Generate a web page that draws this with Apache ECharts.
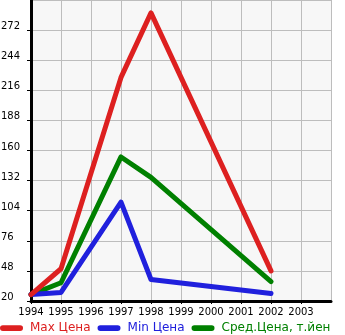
<!DOCTYPE html>
<html>
<head>
<meta charset="utf-8">
<script src="https://cdn.jsdelivr.net/npm/echarts@6/dist/echarts.min.js"></script>
<style>
  html, body { margin: 0; padding: 0; background: #fff; }
  #chart { width: 345px; height: 335px; }
</style>
</head>
<body>
<div id="chart"></div>
<script>
// Years with recorded prices
const years = [1994, 1995, 1997, 1998, 2002];
// Prices, thousand yen
const maxPrice = [26, 50, 228, 288, 48];
const minPrice = [26, 28, 112, 40, 27];
const avgPrice = [26, 37, 154, 135, 38];
// Axis ticks
const yTicks = [20, 48, 76, 104, 132, 160, 188, 216, 244, 272, 300];
const xYears = [1994, 1995, 1996, 1997, 1998, 1999, 2000, 2001, 2002, 2003, 2004];

const seriesNames = ['Max Цена', 'Min Цена', 'Сред.Цена, т.йен'];
const seriesColors = ['#dd2020', '#2020dd', '#008000'];

// Value axis is anchored at the first tick so the step of 28 lines up with it
const yBase = yTicks[0];
const yStep = yTicks[1] - yTicks[0];

const pairs = (vals) => years.map((y, i) => [y, vals[i] - yBase]);

const font = 'DejaVu Sans';
const chart = echarts.init(document.getElementById('chart'), null, { renderer: 'canvas' });

chart.setOption({
  animation: false,
  backgroundColor: '#ffffff',
  grid: {
    left: 31, right: 14, top: 0, bottom: 34,
    outerBoundsMode: 'none', containLabel: false,
    show: true, backgroundColor: '#f7f7f7', borderWidth: 0
  },
  legend: {
    left: 0, bottom: 1, padding: 0,
    itemWidth: 23, itemHeight: 6, itemGap: 7,
    icon: 'path://M3,0 L21,0 A3,3 0 0 1 21,6 L3,6 A3,3 0 0 1 3,0 Z',
    textStyle: { fontFamily: font, fontSize: 12, padding: [0, 0, 0, 2] },
    data: seriesNames.map((n, i) => ({ name: n, textStyle: { color: seriesColors[i] } }))
  },
  xAxis: {
    type: 'value',
    min: xYears[0], max: xYears[xYears.length - 1], interval: 1,
    axisLine: { show: true, onZero: false, lineStyle: { color: '#000', width: 3 } },
    axisTick: { show: true, length: 3, lineStyle: { color: '#000', width: 1 } },
    splitLine: { show: true, lineStyle: { color: '#bdbdbd', width: 1 } },
    axisLabel: {
      color: '#000', fontFamily: font, fontSize: 10, margin: 6,
      showMaxLabel: false,
      formatter: (v) => (v === xYears[xYears.length - 1] ? '' : String(v))
    }
  },
  yAxis: {
    type: 'value',
    min: 0, max: yTicks[yTicks.length - 1] - yBase, interval: yStep,
    axisLine: { show: true, lineStyle: { color: '#000', width: 3 } },
    axisTick: { show: true, length: 4, lineStyle: { color: '#000', width: 1 } },
    splitLine: { show: true, lineStyle: { color: '#bdbdbd', width: 1 } },
    axisLabel: {
      color: '#000', fontFamily: font, fontSize: 10,
      align: 'left', margin: 30, verticalAlign: 'bottom', lineHeight: 7,
      showMaxLabel: false,
      formatter: (v) => String(v + yBase)
    }
  },
  series: [
    { name: seriesNames[0], data: pairs(maxPrice) },
    { name: seriesNames[1], data: pairs(minPrice) },
    { name: seriesNames[2], data: pairs(avgPrice) }
  ].map((s, i) => ({
    type: 'line',
    name: s.name,
    data: s.data,
    showSymbol: false,
    symbol: 'none',
    color: seriesColors[i],
    lineStyle: { color: seriesColors[i], width: 5, cap: 'round', join: 'round' },
    z: 3 - i
  }))
});
</script>
</body>
</html>
